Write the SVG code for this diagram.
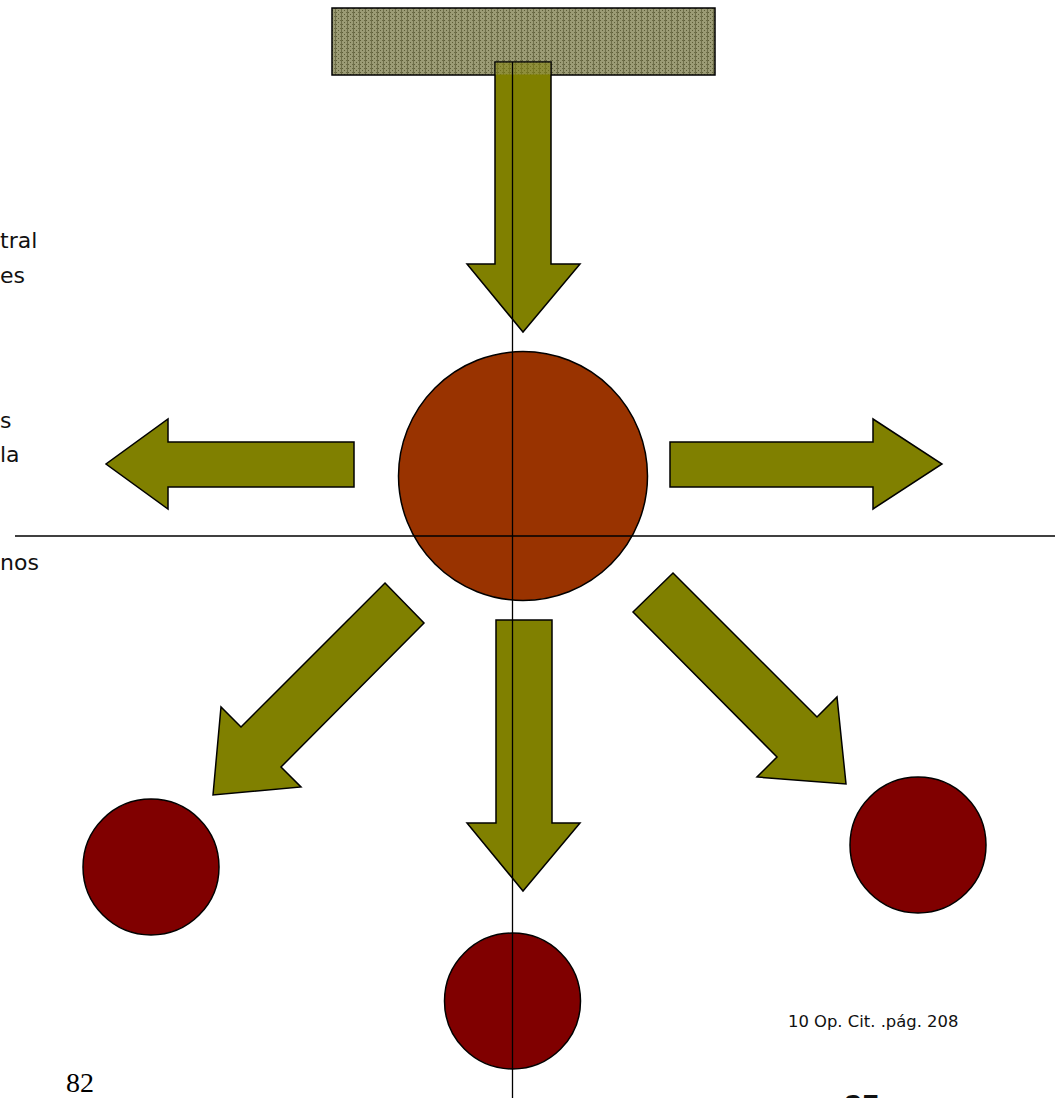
<svg xmlns="http://www.w3.org/2000/svg" width="1063" height="1098" viewBox="0 0 1063 1098">
<style>
.arrow{fill:#808000;stroke:#000;stroke-width:1.5;stroke-linejoin:miter}
.big{fill:#993300;stroke:#000;stroke-width:1.5}
.small{fill:#800000;stroke:#000;stroke-width:1.5}
.axis{stroke:#000;stroke-width:1.3;fill:none}
.side{font-family:"DejaVu Sans","Liberation Sans",sans-serif;font-size:22px;fill:#111}
.note{font-family:"DejaVu Sans","Liberation Sans",sans-serif;font-size:16.4px;fill:#111}
</style>
<defs>
<pattern id="tex" width="6" height="4" patternUnits="userSpaceOnUse">
<rect width="6" height="4" fill="#9b9b75"/>
<rect x="0" y="0" width="1" height="1" fill="#5e5e38"/>
<rect x="2" y="2" width="1" height="1" fill="#5e5e38"/>
<rect x="4" y="0" width="1" height="1" fill="#6a6a44"/>
<rect x="5" y="0" width="1" height="4" fill="#6f6f4a"/>
</pattern>
</defs>
<g id="source">
<rect x="332" y="8" width="383" height="67" fill="url(#tex)" stroke="#000" stroke-width="1.5"/>
</g>
<g id="connectors">
<polygon id="arrow-top" class="arrow" points="495,62 551,62 551,264 580,264 523,332 467,264 495,264"/>
<rect x="495.5" y="62.5" width="55" height="12" fill="url(#tex)" opacity="0.5"/>
<polygon id="arrow-left" class="arrow" points="354,442 168,442 168,419 106,464 168,509 168,487 354,487"/>
<polygon id="arrow-right" class="arrow" points="670,442 873,442 873,419 942,464 873,509 873,487 670,487"/>
<polygon id="arrow-down" class="arrow" points="496,620 552,620 552,823 580,823 523,891 467,823 496,823"/>
<polygon id="arrow-downleft" class="arrow" points="385,583 424,623 281,767 301,787 213,795 221,707 241,727"/>
<polygon id="arrow-downright" class="arrow" points="673,573 817,717 837,697 846,784 757,777 777,757 633,612"/>
</g>
<g id="center">
<circle class="big" cx="523" cy="476" r="124.5"/>
</g>
<g id="node-left">
<circle class="small" cx="151" cy="867" r="68"/>
</g>
<g id="node-bottom">
<circle class="small" cx="512.5" cy="1001" r="68"/>
</g>
<g id="node-right">
<circle class="small" cx="918" cy="845" r="68"/>
</g>
<g id="axes">
<line class="axis" x1="512.5" y1="62" x2="512.5" y2="1098"/>
<line class="axis" x1="15" y1="536" x2="1055" y2="536"/>
</g>
<g id="texts">
<text class="side" x="0" y="248">tral</text>
<text class="side" x="0" y="283">es</text>
<text class="side" x="0" y="428">s</text>
<text class="side" x="0" y="462">la</text>
<text class="side" x="0" y="570">nos</text>
<text class="note" x="788" y="1027">10 Op. Cit. .pág. 208</text>
<text x="66" y="1092" font-family="Liberation Serif,serif" font-size="28" fill="#000">82</text>
<text x="844" y="1117" font-family="Liberation Sans,sans-serif" font-size="32" font-weight="bold" fill="#111">85</text>
</g>
</svg>
